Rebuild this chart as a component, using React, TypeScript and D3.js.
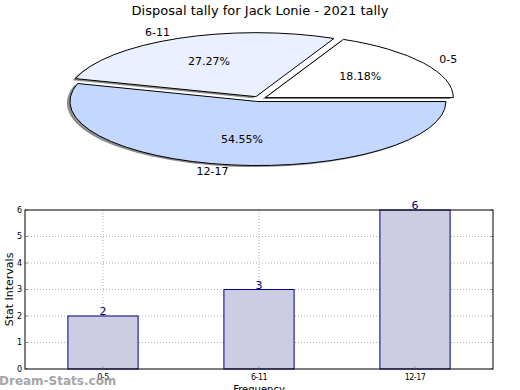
import React from 'react';
import * as d3 from 'd3';

const width = 520;
const height = 390;

// data
const categories = ['0-5', '6-11', '12-17'];
const counts = [2, 3, 6];
const sliceColors = ['#ffffff', '#eaf0ff', '#c4d8ff'];
const yTicks = [0, 1, 2, 3, 4, 5, 6];

const title = 'Disposal tally for Jack Lonie - 2021 tally';

// pie geometry (ellipse, matplotlib-like)
const pie = { cx: 259, cy: 99, rx: 188, ry: 64, explode: 0.04 };
// bar chart box
const box = { left: 25, right: 493, top: 210, bottom: 369 };

const font = 'DejaVu Sans, sans-serif';

function PieChart() {
  const slices = d3
    .pie<number>()
    .sort(null)
    .startAngle(Math.PI / 2)
    .endAngle(Math.PI / 2 - 2 * Math.PI)(counts);
  const arc = d3.arc<d3.PieArcDatum<number>>().innerRadius(0).outerRadius(pie.rx);
  const total = d3.sum(counts);
  const k = pie.ry / pie.rx;

  const items = slices.map((s, i) => {
    // d3 angle -> math angle (ccw from east)
    const a0 = Math.PI / 2 - s.startAngle;
    const a1 = Math.PI / 2 - s.endAngle;
    const mid = (a0 + a1) / 2;
    const ox = pie.cx + pie.explode * pie.rx * Math.cos(mid);
    const oy = pie.cy - pie.explode * pie.ry * Math.sin(mid);
    const d = arc({ ...s, startAngle: Math.min(s.startAngle, s.endAngle), endAngle: Math.max(s.startAngle, s.endAngle) }) as string;
    const lx = ox + 1.1 * pie.rx * Math.cos(mid);
    const ly = oy - 1.1 * pie.ry * Math.sin(mid);
    const px = ox + 0.6 * pie.rx * Math.cos(mid);
    const py = oy - 0.6 * pie.ry * Math.sin(mid);
    return {
      d, ox, oy, lx, ly, px, py,
      anchor: Math.cos(mid) >= 0 ? 'start' : 'end',
      label: categories[i],
      pct: ((100 * counts[i]) / total).toFixed(2) + '%',
      color: sliceColors[i],
    };
  });

  return (
    <g>
      {items.map((it, i) => (
        <path
          key={'sh' + i}
          d={it.d}
          transform={`translate(${it.ox - 3},${it.oy + 1.5}) scale(1,${k})`}
          fill="#000"
          fillOpacity={0.45}
          stroke="none"
        />
      ))}
      {items.map((it, i) => (
        <path
          key={'sl' + i}
          d={it.d}
          transform={`translate(${it.ox},${it.oy}) scale(1,${k})`}
          fill={it.color}
          stroke="#000"
          strokeWidth={1}
          vectorEffect="non-scaling-stroke"
        />
      ))}
      {items.map((it, i) => (
        <g key={'lb' + i} fontFamily={font} fontSize={11} fill="#000">
          <text x={it.lx} y={it.ly} textAnchor={it.anchor} dominantBaseline="central">
            {it.label}
          </text>
          <text x={it.px} y={it.py} textAnchor="middle" dominantBaseline="central">
            {it.pct}
          </text>
        </g>
      ))}
    </g>
  );
}

function BarChart() {
  const x = d3
    .scaleBand<string>()
    .domain(categories)
    .range([box.left, box.right])
    .paddingInner(0.55)
    .paddingOuter(0.275);
  const y = d3.scaleLinear().domain([0, 6]).range([box.bottom, box.top]);
  const bw = x.bandwidth();

  return (
    <g fontFamily={font}>
      {/* grid */}
      {yTicks.slice(1, -1).map(t => (
        <line key={'gy' + t} x1={box.left} x2={box.right} y1={y(t)} y2={y(t)}
          stroke="#b0b0b0" strokeWidth={1} strokeDasharray="1,2" />
      ))}
      {categories.map(c => (
        <line key={'gx' + c} x1={x(c)! + bw / 2} x2={x(c)! + bw / 2} y1={box.top} y2={box.bottom}
          stroke="#b0b0b0" strokeWidth={1} strokeDasharray="1,2" />
      ))}
      {/* bars */}
      {categories.map((c, i) => (
        <rect key={'b' + c} x={x(c)} y={y(counts[i])} width={bw} height={y(0) - y(counts[i])}
          fill="#ccccE3" stroke="#000080" strokeWidth={1} />
      ))}
      {categories.map((c, i) => (
        <text key={'v' + c} x={x(c)! + bw / 2} y={y(counts[i]) - 1} textAnchor="middle"
          fontSize={11} fill="#000080">{counts[i]}</text>
      ))}
      {/* ticks */}
      {yTicks.map(t => (
        <g key={'ty' + t}>
          <line x1={box.left} x2={box.left + 3} y1={y(t)} y2={y(t)} stroke="#999" />
          <line x1={box.right - 3} x2={box.right} y1={y(t)} y2={y(t)} stroke="#999" />
          <text x={box.left - 3} y={y(t)} textAnchor="end" dominantBaseline="central" fontSize={8} fill="#000">
            {t}
          </text>
        </g>
      ))}
      {categories.map(c => (
        <g key={'tx' + c}>
          <line x1={x(c)! + bw / 2} x2={x(c)! + bw / 2} y1={box.bottom} y2={box.bottom - 3} stroke="#999" />
          <text x={x(c)! + bw / 2} y={box.bottom + 11} textAnchor="middle" fontSize={8}
            letterSpacing={-0.5} fill="#000">{c}</text>
        </g>
      ))}
      <rect x={box.left} y={box.top} width={box.right - box.left} height={box.bottom - box.top}
        fill="none" stroke="#000" strokeWidth={1} />
      <text x={259} y={393} textAnchor="middle" fontSize={10} fill="#000">Frequency</text>
      <text transform={`translate(13,${(box.top + box.bottom) / 2}) rotate(-90)`} textAnchor="middle"
        fontSize={11} fill="#000">Stat Intervals</text>
    </g>
  );
}

export default function App() {
  return (
    <svg width={width} height={height} style={{ position: 'absolute', left: 0, top: 0 }}>
      <rect width={width} height={height} fill="#fff" />
      <text x={260} y={15} textAnchor="middle" fontFamily={font} fontSize={13} fill="#000">
        {title}
      </text>
      <PieChart />
      <BarChart />
      <text x={-1} y={385} fontFamily={font} fontSize={12} fontWeight="bold" fill="#999" fillOpacity={0.9}>
        Dream-Stats.com
      </text>
    </svg>
  );
}
